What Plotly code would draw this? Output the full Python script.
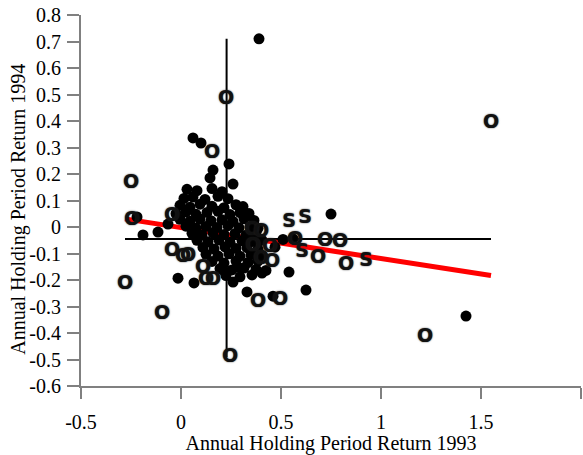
import plotly.graph_objects as go

# Annual holding period returns, 1993 vs 1994 (filled dots)
dot_x = [0.39, 1.425, 0.75, 0.54, 0.625, 0.33, 0.46, 0.06, 0.10, 0.24, 0.16, 0.145, 0.26,
         -0.19, -0.115, -0.22, -0.065, -0.015, 0.065, 0.26, 0.405, 0.21, 0.285,
         0.03, 0.08, 0.155, 0.205,
         0.015, 0.06, 0.12, 0.185, 0.235,
         -0.005, 0.045, 0.095, 0.155, 0.215, 0.275, 0.31,
         -0.025, 0.025, 0.075, 0.13, 0.185, 0.245, 0.295, 0.34,
         -0.005, 0.045, 0.095, 0.15, 0.205, 0.26, 0.315, 0.365,
         0.025, 0.075, 0.125, 0.18, 0.235, 0.29, 0.345, 0.385,
         0.055, 0.105, 0.16, 0.215, 0.27, 0.325, 0.375,
         0.08, 0.135, 0.19, 0.245, 0.305, 0.355, 0.405, 0.51, 0.56,
         0.11, 0.165, 0.22, 0.275, 0.33, 0.385, 0.47,
         0.125, 0.185, 0.24, 0.295, 0.35, 0.405,
         0.155, 0.215, 0.275, 0.335, 0.385,
         0.195, 0.255, 0.315, 0.375, 0.425,
         0.225, 0.295, 0.355]
dot_y = [0.71, -0.336, 0.049, -0.17, -0.238, -0.245, -0.261, 0.336, 0.317, 0.238, 0.215, 0.185, 0.162,
         -0.03, -0.019, 0.038, 0.011, -0.193, -0.211, -0.208, -0.174, -0.163, -0.151,
         0.142, 0.137, 0.145, 0.133,
         0.108, 0.113, 0.104, 0.116, 0.107,
         0.082, 0.075, 0.086, 0.078, 0.073, 0.084, 0.077,
         0.05, 0.057, 0.048, 0.055, 0.059, 0.047, 0.054, 0.051,
         0.029, 0.022, 0.03, 0.024, 0.027, 0.021, 0.031, 0.025,
         0.003, -0.004, 0.002, -0.002, 0.005, -0.003, 0.001, -0.005,
         -0.024, -0.03, -0.022, -0.028, -0.025, -0.031, -0.027,
         -0.05, -0.056, -0.049, -0.058, -0.052, -0.055, -0.05, -0.047, -0.044,
         -0.077, -0.083, -0.075, -0.081, -0.078, -0.084, -0.076,
         -0.103, -0.109, -0.101, -0.11, -0.104, -0.107,
         -0.13, -0.136, -0.128, -0.134, -0.129,
         -0.157, -0.162, -0.155, -0.16, -0.164,
         -0.183, -0.188, -0.181]

# Observations flagged "O"
o_x = [1.55, -0.28, -0.25, -0.245, -0.095, 0.225, 0.155, 0.245, 1.22, -0.045, -0.045, 0.01,
       0.035, 0.11, 0.125, 0.16, 0.385, 0.495, 0.355, 0.445, 0.36, 0.455, 0.40, 0.57,
       0.72, 0.795, 0.685, 0.825, 0.40]
o_y = [0.393, -0.215, 0.166, 0.026, -0.329, 0.483, 0.279, -0.491, -0.415, 0.042, -0.091, -0.113,
       -0.11, -0.155, -0.2, -0.2, -0.283, -0.276, -0.011, -0.076, -0.072, -0.132, -0.12, -0.049,
       -0.053, -0.057, -0.117, -0.144, -0.02]

# Observations flagged "S"
s_x = [0.54, 0.62, 0.605, 0.925]
s_y = [0.019, 0.034, -0.094, -0.128]

# Sample means and least-squares fit
mean_x = 0.228
mean_y = -0.045
fit_intercept = -0.002
fit_slope = -0.117

x_ticks = [-0.5, 0, 0.5, 1, 1.5, 2]
x_tick_text = ["-0.5", "0", "0.5", "1", "1.5", "2"]
y_ticks = [-0.6, -0.5, -0.4, -0.3, -0.2, -0.1, 0, 0.1, 0.2, 0.3, 0.4, 0.5, 0.6, 0.7, 0.8]
y_tick_text = ["-0.6", "-0.5", "-0.4", "-0.3", "-0.2", "-0.1", "0", "0.1", "0.2", "0.3",
               "0.4", "0.5", "0.6", "0.7", "0.8"]

x_title = "Annual Holding Period Return 1993"
y_title = "Annual Holding Period Return 1994"

all_x = dot_x + o_x + s_x
all_y = dot_y + o_y + s_y
x_lo, x_hi = min(all_x), max(all_x)
y_lo, y_hi = min(all_y), max(all_y)

fig = go.Figure()

# Mean cross-hairs
fig.add_trace(go.Scatter(x=[mean_x, mean_x], y=[y_lo, y_hi], mode="lines",
                         line=dict(color="black", width=2), hoverinfo="skip"))
fig.add_trace(go.Scatter(x=[x_lo, x_hi], y=[mean_y, mean_y], mode="lines",
                         line=dict(color="black", width=2), hoverinfo="skip"))
# Regression line
fig.add_trace(go.Scatter(x=[x_lo, x_hi],
                         y=[fit_intercept + fit_slope * x_lo, fit_intercept + fit_slope * x_hi],
                         mode="lines", line=dict(color="#ff0000", width=5), hoverinfo="skip"))

fig.add_trace(go.Scatter(x=dot_x, y=dot_y, mode="markers",
                         marker=dict(color="black", size=11, line=dict(width=0))))

# Heavy, slightly soft letter markers
letter_font = dict(family="DejaVu Sans", size=19, weight="bold", color="#111111",
                   shadow="0px 0px 1.5px #222222")
fig.add_trace(go.Scatter(x=o_x, y=o_y, mode="text", text=["O"] * len(o_x),
                         textposition="middle center", textfont=letter_font))
fig.add_trace(go.Scatter(x=s_x, y=s_y, mode="text", text=["S"] * len(s_x),
                         textposition="middle center", textfont=letter_font))

axis_font = dict(family="Liberation Serif", size=20, color="black")

# Vertical axis title, set slightly below the middle of the plot area
fig.add_annotation(text=y_title, textangle=-90, xref="paper", yref="paper",
                   x=-0.124, y=0.475, xanchor="center", yanchor="middle",
                   showarrow=False, font=axis_font)

fig.update_layout(
    width=583, height=455,
    margin=dict(l=81, r=2, t=15, b=69),
    paper_bgcolor="white", plot_bgcolor="white",
    showlegend=False,
    font=axis_font,
    xaxis=dict(range=[-0.5, 2], tickvals=x_ticks, ticktext=x_tick_text,
               ticks="outside", ticklen=11, tickwidth=2, tickcolor="#808080",
               showline=True, linecolor="#808080", linewidth=2,
               showgrid=False, zeroline=False, automargin=False, ticklabelstandoff=6,
               title=dict(text=x_title, font=axis_font, standoff=3),
               tickfont=axis_font),
    yaxis=dict(range=[-0.6, 0.8], tickvals=y_ticks, ticktext=y_tick_text,
               ticks="outside", ticklen=12, tickwidth=2, tickcolor="#808080",
               showline=True, linecolor="#808080", linewidth=2,
               showgrid=False, zeroline=False, automargin=False, ticklabelstandoff=2,
               tickfont=axis_font),
)

fig.write_html("out.html")
